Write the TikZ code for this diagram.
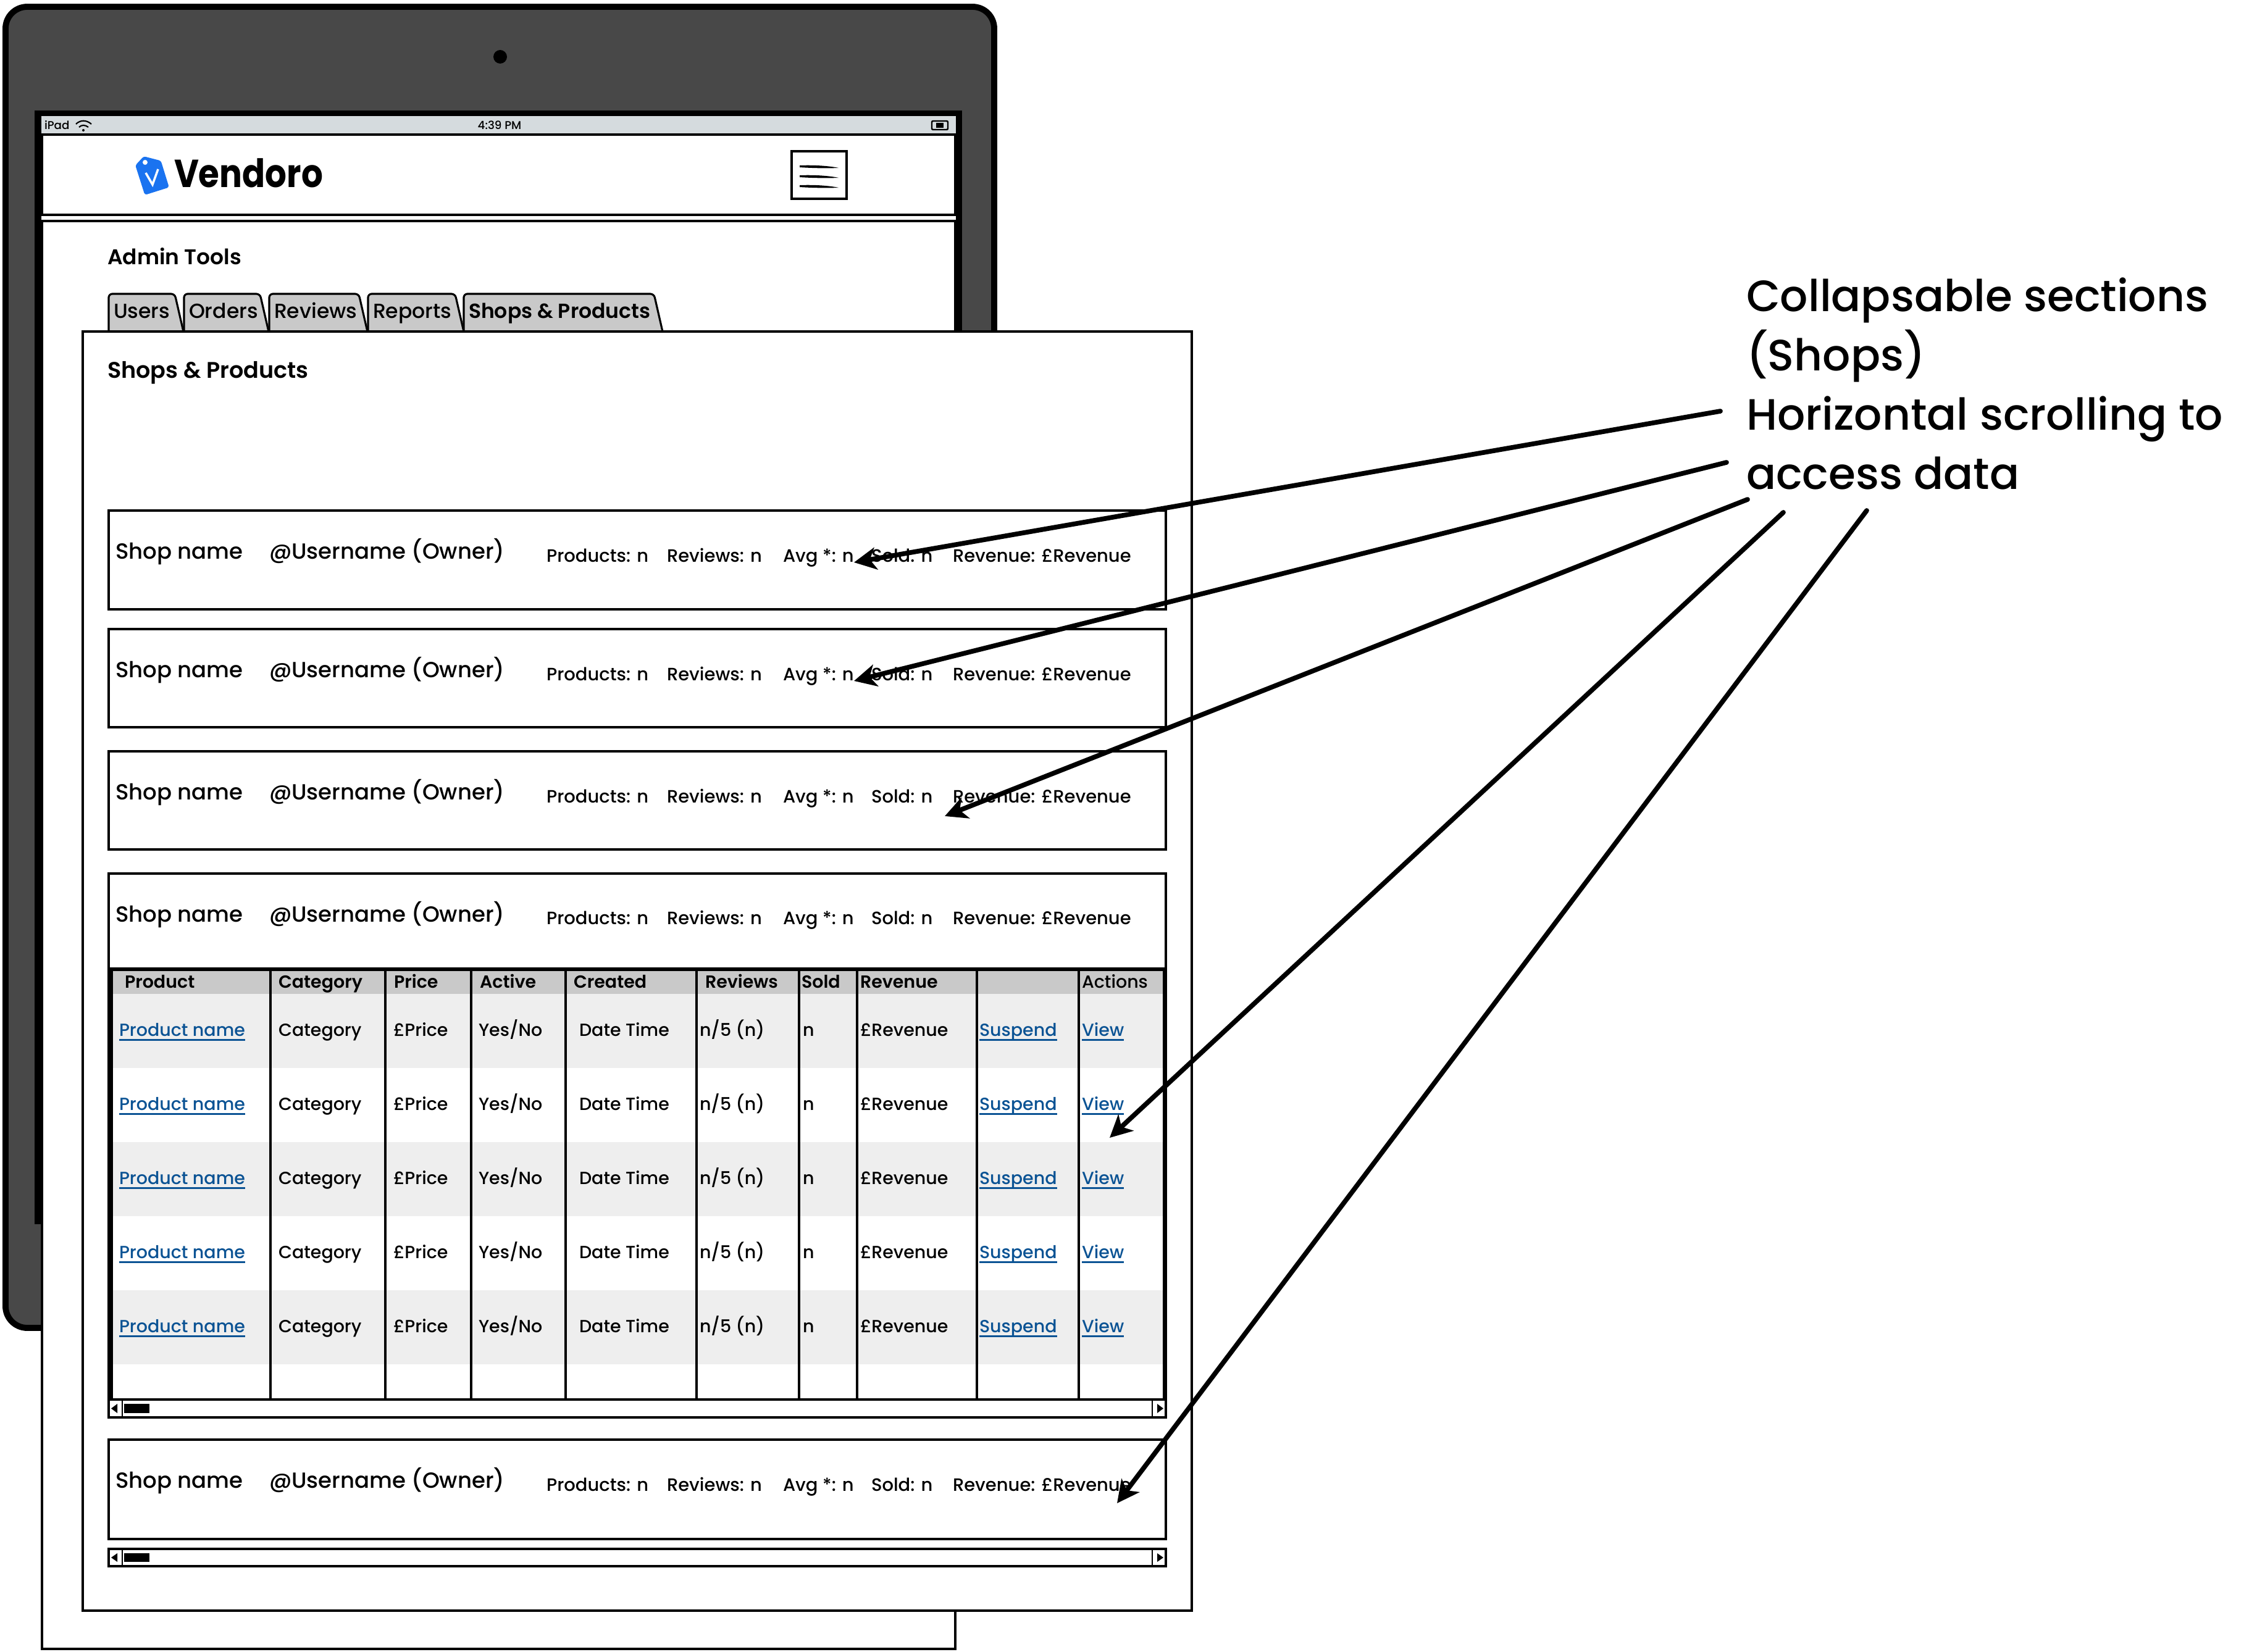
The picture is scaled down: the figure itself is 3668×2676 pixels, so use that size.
\documentclass[tikz,border=0pt]{standalone}
\usepackage{fontspec}
\setmainfont{Poppins Medium}[BoldFont=Poppins SemiBold]
\newfontfamily\brandfont{Poppins Bold}
\usetikzlibrary{arrows.meta}
\definecolor{bezel}{HTML}{484848}
\definecolor{statusbar}{HTML}{D5DBDE}
\definecolor{tabgray}{HTML}{C9C9C9}
\definecolor{rowgray}{HTML}{EEEEEE}
\definecolor{linkblue}{HTML}{0B5394}
\definecolor{logoblue}{HTML}{1A73F0}
\tikzset{every node/.style={inner sep=0pt,outer sep=0pt,anchor=base west},
  wire/.style={draw=black,line width=1.3pt,fill=white},
  tabshape/.style={draw=black,line width=0.9pt,fill=tabgray,rounded corners=0.06cm},
  shoptxt/.style={font=\fontsize{10.1}{12}\selectfont},
  smalltxt/.style={font=\fontsize{8.25}{10}\selectfont},
  celltxt/.style={font=\fontsize{8.1}{10}\selectfont},
  headtxt/.style={font=\fontsize{8.1}{10}\selectfont\bfseries},
  tabtxt/.style={font=\fontsize{9.4}{11}\selectfont},
  titletxt/.style={font=\fontsize{9.8}{12}\selectfont\bfseries},
  linktxt/.style={celltxt,text=linkblue},
  linkline/.style={draw=linkblue,line width=0.9pt},
  notearrow/.style={line width=2.2pt,line cap=round,-{Stealth[length=0.36cm,width=0.36cm,inset=0.1cm]}}}
\newcommand{\shoprow}[3]
{\node[shoptxt] (shop#1) at (187,#2+78) {Shop name};
  \node[shoptxt] (owner#1) at (436,#2+78) {@Username (Owner)};
  \node[smalltxt] (products#1) at (885,#2+#3) {Products: n};
  \node[smalltxt] (reviews#1) at (1080,#2+#3) {Reviews: n};
  \node[smalltxt] (avg#1) at (1268,#2+#3) {Avg *: n};
  \node[smalltxt] (sold#1) at (1411,#2+#3) {Sold: n};
  \node[smalltxt] (revenue#1) at (1543,#2+#3) {Revenue: £Revenue}}
\newcommand{\scrollbar}[2]
{\draw[wire] (176,#1) rectangle (1888,#2);
  \draw[line width=0.7pt] (198,#1) -- (198,#2) (1866,#1) -- (1866,#2);
  \fill (201,#1+7) rectangle (242,#2-7);
  \fill (180,{(#1+#2)/2}) -- (190,#1+7) -- (190,#2-7) -- cycle;
  \fill (1884,{(#1+#2)/2}) -- (1874,#1+7) -- (1874,#2-7) -- cycle}
\begin{document}
\begin{tikzpicture}[x=0.01cm,y=-0.01cm]
  \useasboundingbox (0,0) rectangle (3668,2676);
  \draw[draw=black,line width=2.8pt,fill=bezel,rounded corners=0.35cm] (9,11) rectangle (1610,2151);
  \fill (810,92) circle[radius=11];
  \fill (56,179) rectangle (1558,1983);
  \fill[white] (67,216) rectangle (1548,1983);
  \fill[statusbar] (67,188) rectangle (1548,216);
  \node[font=\fontsize{5.2}{6}\selectfont] (ipad) at (72,210) {iPad};
  \node[font=\fontsize{5.2}{6}\selectfont,anchor=base] (clock) at (809,210) {4:39 PM};
  \draw[line width=0.6pt] (123,201) .. controls (130,194) and (140,194) .. (148,201);
  \draw[line width=0.6pt] (128,206) .. controls (132,202) and (138,202) .. (143,206);
  \fill (135,211) circle[radius=2];
  \draw[line width=0.7pt,rounded corners=0.02cm] (1509,196) rectangle (1535,210);
  \fill (1516,199) rectangle (1528,207);
  \draw[wire] (68,218) rectangle (1547,348);
  \draw[wire] (68,358) rectangle (1547,2671);
  \filldraw[logoblue,rounded corners=0.03cm] (233,254) -- (260,261) -- (273,303) -- (235,315) -- (220,268) -- cycle;
  \fill[white] (235,263) circle[radius=4];
  \draw[white,line width=1pt] (236,280) -- (247,299) -- (256,274);
  \node[font=\fontsize{18}{20}\selectfont\brandfont] (brand) at (282,304) {\scalebox{0.865}[1]{Vendoro}};
  \draw[wire,line width=1.4pt] (1282,245) rectangle (1371,322);
  \foreach \y in {268,284,300}
    \fill (1295,\y) .. controls (1320,{\y-1}) and (1345,{\y+1}) .. (1358,{\y+4}) .. controls (1335,{\y+5}) and (1310,{\y+4}) .. (1295,{\y+3}) -- cycle;
  \node[titletxt] (admin) at (174,429) {Admin Tools};
  \foreach \n/\a/\b/\t/\f in {1/176/297/Users/\relax,2/298/435/Orders/\relax,3/436/595/Reviews/\relax,4/596/751/Reports/\relax,5/751/1073/Shops \& Products/\bfseries}{
    \draw[tabshape] (\a,537) -- (\a,476) -- ({\b-14},476) -- (\b,537);
    \node[tabtxt] (tab\n) at ({\a+8},516) {\f\t};
  }
  \draw[wire] (134,537) rectangle (1930,2609);
  \node[titletxt,font=\fontsize{10.4}{12}\selectfont\bfseries] (section) at (174,613) {Shops \& Products};
  \foreach \r/\a/\b in {1/827/987,2/1019/1178,3/1217/1376,4/1415/2296,5/2332/2493}
    \draw[wire] (176,\a) rectangle (1888,\b);
  \shoprow{1}{827}{83};
  \shoprow{2}{1019}{83};
  \shoprow{3}{1217}{83};
  \shoprow{4}{1415}{82};
  \shoprow{5}{2332}{83};
  \fill[tabgray] (183,1570) rectangle (1883,1610);
  \foreach \y in {1610,1850,2090}
    \fill[rowgray] (183,\y) rectangle (1883,{\y+120});
  \draw[line width=1.5pt] (176,1570) -- (1888,1570);
  \draw[line width=1.5pt] (180,1570) -- (180,2267) (1886,1570) -- (1886,2267);
  \foreach \x in {438,624,763,916,1128,1294,1388,1582,1747}
    \draw[line width=1.1pt] (\x,1570) -- (\x,2267);
  \foreach \n/\x/\t in {1/202/Product,2/451/Category,3/638/Price,4/777/Active,5/929/Created,6/1142/Reviews,7/1298/Sold,8/1393/Revenue}
    \node[headtxt] (head\n) at (\x,1600) {\t};
  \node[celltxt] (head9) at (1752,1600) {Actions};
  \foreach \r/\y in {1/1678,2/1798,3/1918,4/2038,5/2158}{
    \node[linktxt] (pname\r) at (193,\y) {Product name};
    \node[celltxt] (cat\r) at (451,\y) {Category};
    \node[celltxt] (price\r) at (637,\y) {£Price};
    \node[celltxt] (active\r) at (775,\y) {Yes/No};
    \node[celltxt] (date\r) at (938,\y) {Date Time};
    \node[celltxt] (rate\r) at (1133,\y) {n/5 (n)};
    \node[celltxt] (count\r) at (1300,\y) {n};
    \node[celltxt] (money\r) at (1393,\y) {£Revenue};
    \node[linktxt] (suspend\r) at (1586,\y) {Suspend};
    \node[linktxt] (view\r) at (1752,\y) {View};
    \draw[linkline] ([yshift=-1.8pt]pname\r.base west) -- ([yshift=-1.8pt]pname\r.base east);
    \draw[linkline] ([yshift=-1.8pt]suspend\r.base west) -- ([yshift=-1.8pt]suspend\r.base east);
    \draw[linkline] ([yshift=-1.8pt]view\r.base west) -- ([yshift=-1.8pt]view\r.base east);
  }
  \scrollbar{2267}{2296};
  \scrollbar{2509}{2537};
  \node[font=\fontsize{20.2}{27.3}\selectfont,align=left,anchor=base west] (note) at (2828,793)
    {Collapsable sections\\(Shops)\\Horizontal scrolling to\\access data};
  \foreach \n/\a/\b/\c/\d in {1/2786/666/1383/911,2/2796/749/1383/1103,3/2830/809/1530/1322,4/2888/830/1797/1843,5/3023/827/1809/2435}{
    \coordinate (from\n) at (\a,\b);
    \coordinate (tip\n) at (\c,\d);
    \draw[notearrow] (from\n) -- (tip\n);
  }
\end{tikzpicture}
\end{document}
